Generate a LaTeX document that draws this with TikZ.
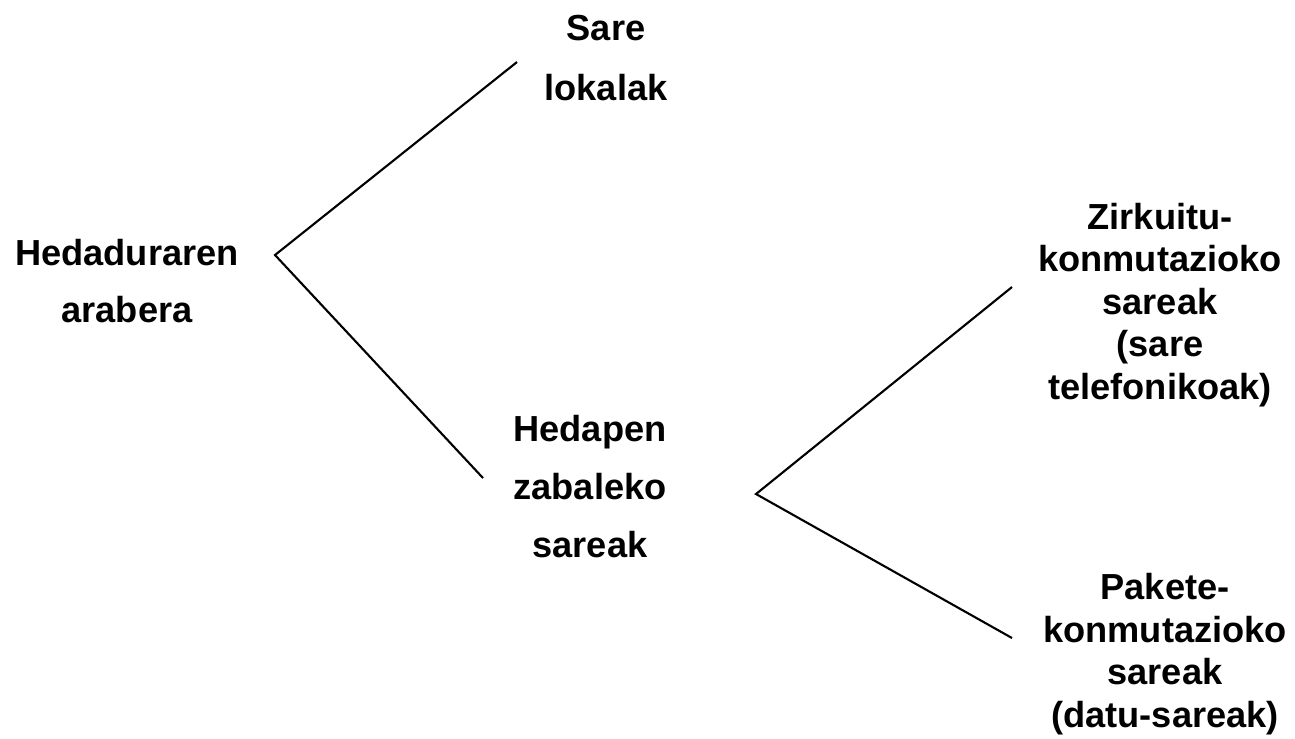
\documentclass[tikz,border=0pt]{standalone}
\usepackage{fontspec}
\setmainfont{Liberation Sans}
\begin{document}
\begin{tikzpicture}[x=0.01cm,y=-0.01cm,
  label/.style={align=center,inner sep=0pt,font=\fontsize{10.3}{#1}\selectfont\bfseries},
  label/.default=16.5pt,
  branch/.style={draw=black,line width=0.6pt}]
\useasboundingbox (0,0) rectangle (1295,738);
% category labels
\node[label=16.2pt] (root) at (127,281) {Hedaduraren\\arabera};
\node[label=17pt]   (lan)  at (606,58)  {Sare\\lokalak};
\node[label=16.5pt] (wan)  at (590,487) {Hedapen\\zabaleko\\sareak};
\node[label=12.1pt] (circ) at (1160,305) {Zirkuitu-\\konmutazioko\\sareak\\(sare\\telefonikoak)};
\node[label=12.1pt] (pack) at (1165,654) {Pakete-\\konmutazioko\\sareak\\(datu-sareak)};
% fork points and branch ends
\coordinate (f1) at (275,255);
\coordinate (lanend) at (517,62);
\coordinate (wanend) at (483,478);
\coordinate (f2) at (756,494);
\coordinate (circend) at (1012,287);
\coordinate (packend) at (1012,638);
\draw[branch] (lanend) -- (f1) -- (wanend);
\draw[branch] (circend) -- (f2) -- (packend);
\end{tikzpicture}
\end{document}
